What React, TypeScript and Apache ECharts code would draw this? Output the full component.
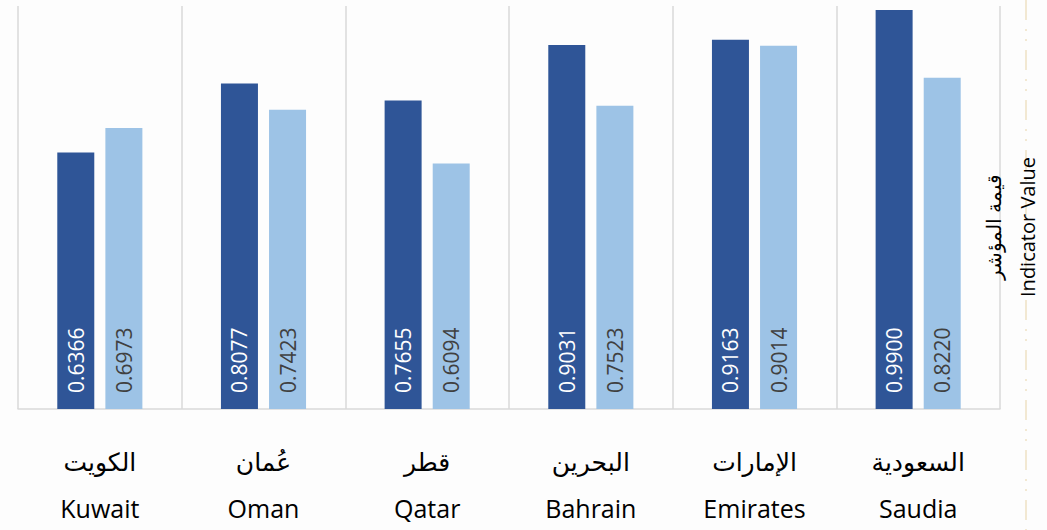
import React, { useEffect, useRef } from "react";
import * as echarts from "echarts";

const categoriesEn = ["Kuwait", "Oman", "Qatar", "Bahrain", "Emirates", "Saudia"];
const categoriesAr = ["الكويت", "عُمان", "قطر", "البحرين", "الإمارات", "السعودية"];
const seriesDark = [0.6366, 0.8077, 0.7655, 0.9031, 0.9163, 0.99];
const seriesLight = [0.6973, 0.7423, 0.6094, 0.7523, 0.9014, 0.822];
const axisTitle = "قيمة المؤشر\nIndicator Value";

export default function App() {
  const ref = useRef<HTMLDivElement>(null);
  useEffect(() => {
    if (!ref.current) return;
    const chart = echarts.init(ref.current, undefined, { renderer: "svg" });
    const labelBase = {
      show: true,
      position: "insideBottom",
      rotate: 90,
      align: "left",
      verticalAlign: "middle",
      distance: 16,
      fontFamily: "Open Sans",
      fontSize: 21,
      formatter: (p: any) => Number(p.value).toFixed(4),
    };
    chart.setOption({
      animation: false,
      backgroundColor: "#FDFDFD",
      grid: { left: 18, right: 47, top: 6, bottom: 121 },
      xAxis: {
        type: "category",
        data: categoriesEn,
        axisLine: { lineStyle: { color: "#D9D9D9", width: 1.5 } },
        axisTick: { show: false },
        splitLine: { show: true, interval: 0, lineStyle: { color: "#D9D9D9", width: 1.5 } },
        axisLabel: {
          interval: 0,
          margin: 30,
          formatter: (v: string, i: number) => `{ar|${categoriesAr[i]}}\n{en|${v}}`,
          rich: {
            ar: { fontFamily: "DejaVu Sans", fontSize: 25, lineHeight: 46, color: "#000" },
            en: { fontFamily: "Open Sans", fontSize: 25, lineHeight: 46, color: "#000" },
          },
        },
      },
      yAxis: {
        type: "value",
        min: 0,
        max: 1,
        show: false,
        splitLine: { show: false },
      },
      series: [
        {
          type: "bar",
          data: seriesDark,
          barWidth: 37,
          barGap: "30%",
          itemStyle: { color: "#2F5597" },
          label: { ...labelBase, color: "#FFFFFF" },
        },
        {
          type: "bar",
          data: seriesLight,
          barWidth: 37,
          itemStyle: { color: "#9DC3E6" },
          label: { ...labelBase, color: "#404040" },
        },
      ],
      graphic: [
        {
          type: "line",
          shape: { x1: 1026, y1: 0, x2: 1026, y2: 530 },
          style: { stroke: "#F2E8D2", lineWidth: 2, lineDash: [20, 9, 2, 8, 2, 9] },
          z: 0,
        },
        {
          type: "text",
          x: 1010,
          y: 227,
          rotation: Math.PI / 2,
          style: {
            text: axisTitle,
            fontFamily: "Open Sans",
            fontSize: 20,
            lineHeight: 34,
            align: "center",
            verticalAlign: "middle",
            fill: "#000",
          },
          z: 10,
        },
      ],
    });
    return () => chart.dispose();
  }, []);
  return <div ref={ref} style={{ position: "fixed", left: 0, top: 0, width: 1047, height: 530 }} />;
}
